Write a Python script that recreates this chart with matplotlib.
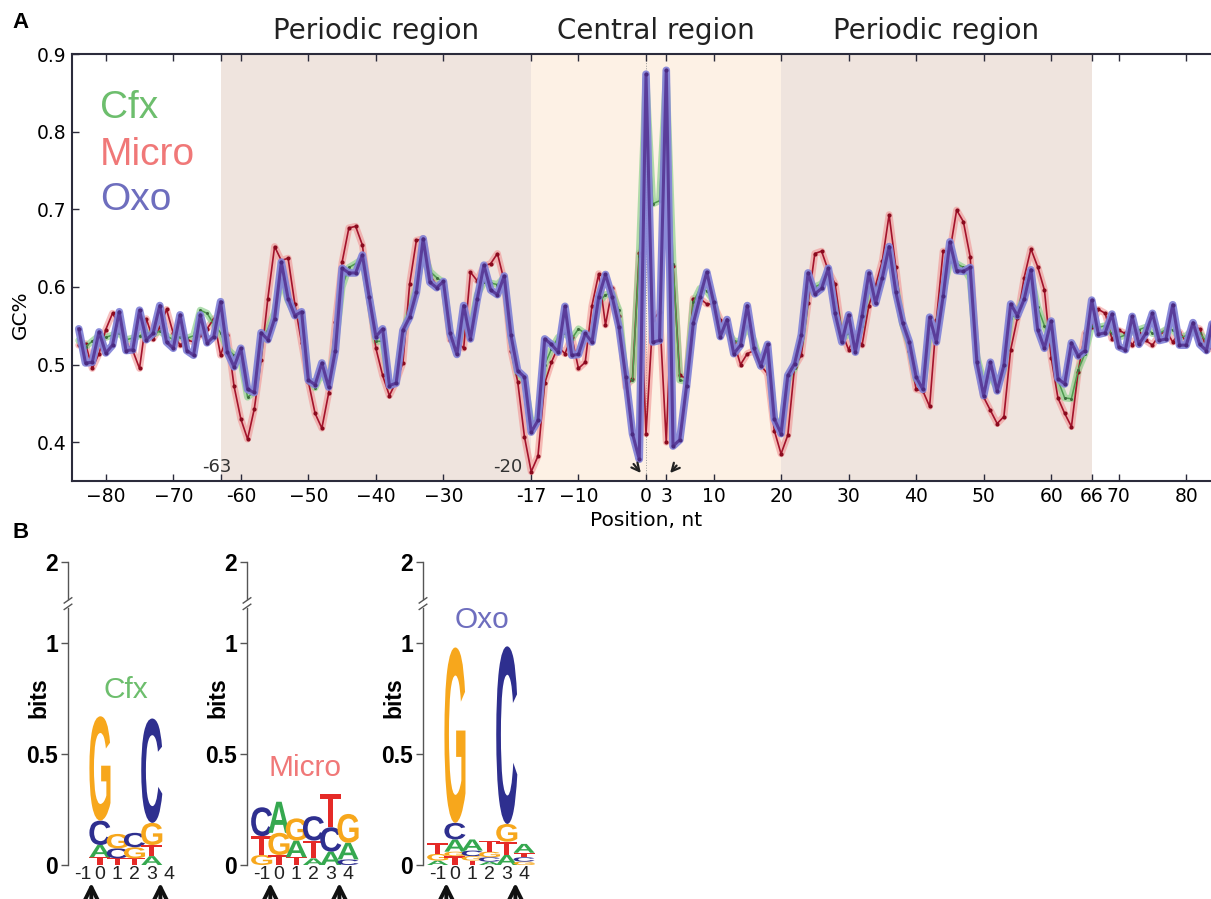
import numpy as np
import matplotlib
matplotlib.use('Agg')
import matplotlib.pyplot as plt
from matplotlib.textpath import TextPath
from matplotlib.patches import PathPatch
from matplotlib.transforms import Affine2D
from matplotlib.font_manager import FontProperties

# panel A data: GC% per position (-84..84)
positions = list(range(-84, 85))

oxo = [0.546, 0.502, 0.503, 0.542, 0.515, 0.525, 0.568, 0.518, 0.519, 0.570,
       0.532, 0.540, 0.576, 0.529, 0.521, 0.564, 0.518, 0.512, 0.564, 0.528,
       0.536, 0.581, 0.516, 0.497, 0.521, 0.468, 0.464, 0.541, 0.532, 0.559,
       0.632, 0.585, 0.563, 0.568, 0.480, 0.474, 0.502, 0.471, 0.518, 0.624,
       0.618, 0.618, 0.641, 0.587, 0.536, 0.546, 0.473, 0.476, 0.544, 0.561,
       0.593, 0.662, 0.606, 0.599, 0.607, 0.540, 0.513, 0.576, 0.533, 0.584,
       0.628, 0.596, 0.590, 0.614, 0.538, 0.492, 0.484, 0.413, 0.428, 0.533,
       0.526, 0.516, 0.575, 0.512, 0.513, 0.540, 0.529, 0.587, 0.616, 0.587,
       0.548, 0.484, 0.411, 0.378, 0.874, 0.529, 0.531, 0.879, 0.395, 0.403,
       0.472, 0.553, 0.587, 0.619, 0.581, 0.536, 0.558, 0.514, 0.525, 0.576,
       0.521, 0.498, 0.526, 0.430, 0.411, 0.486, 0.501, 0.538, 0.618, 0.591,
       0.598, 0.624, 0.566, 0.529, 0.564, 0.516, 0.563, 0.618, 0.579, 0.612,
       0.652, 0.593, 0.554, 0.529, 0.484, 0.468, 0.561, 0.529, 0.588, 0.658,
       0.621, 0.620, 0.625, 0.503, 0.460, 0.503, 0.466, 0.499, 0.578, 0.563,
       0.584, 0.622, 0.545, 0.521, 0.556, 0.482, 0.475, 0.528, 0.511, 0.518,
       0.583, 0.539, 0.541, 0.565, 0.523, 0.519, 0.562, 0.526, 0.540, 0.566,
       0.531, 0.533, 0.577, 0.525, 0.525, 0.554, 0.526, 0.518, 0.560]

micro = [0.525, 0.527, 0.495, 0.514, 0.545, 0.566, 0.551, 0.527, 0.518, 0.495,
         0.559, 0.533, 0.548, 0.571, 0.540, 0.525, 0.532, 0.529, 0.538, 0.546,
         0.559, 0.512, 0.538, 0.472, 0.430, 0.404, 0.443, 0.506, 0.585, 0.652,
         0.634, 0.637, 0.578, 0.528, 0.478, 0.437, 0.418, 0.463, 0.555, 0.632,
         0.676, 0.678, 0.654, 0.587, 0.521, 0.486, 0.460, 0.478, 0.502, 0.604,
         0.660, 0.662, 0.615, 0.602, 0.605, 0.532, 0.530, 0.521, 0.619, 0.608,
         0.627, 0.630, 0.643, 0.608, 0.518, 0.478, 0.407, 0.362, 0.382, 0.476,
         0.503, 0.523, 0.514, 0.536, 0.495, 0.503, 0.576, 0.617, 0.551, 0.598,
         0.563, 0.471, 0.482, 0.644, 0.411, 0.557, 0.568, 0.400, 0.627, 0.486,
         0.482, 0.585, 0.585, 0.578, 0.578, 0.558, 0.544, 0.529, 0.500, 0.514,
         0.518, 0.499, 0.488, 0.415, 0.385, 0.409, 0.497, 0.512, 0.579, 0.643,
         0.646, 0.621, 0.604, 0.542, 0.519, 0.538, 0.525, 0.576, 0.602, 0.634,
         0.693, 0.625, 0.553, 0.518, 0.468, 0.466, 0.446, 0.557, 0.646, 0.646,
         0.699, 0.684, 0.639, 0.506, 0.458, 0.441, 0.424, 0.433, 0.519, 0.560,
         0.612, 0.649, 0.626, 0.596, 0.509, 0.457, 0.437, 0.420, 0.491, 0.540,
         0.549, 0.571, 0.566, 0.533, 0.544, 0.540, 0.525, 0.540, 0.531, 0.525,
         0.538, 0.544, 0.529, 0.542, 0.529, 0.549, 0.546, 0.521, 0.520]

cfx = [0.531, 0.523, 0.530, 0.537, 0.535, 0.538, 0.540, 0.532, 0.534, 0.537,
       0.541, 0.539, 0.543, 0.537, 0.532, 0.536, 0.534, 0.537, 0.570, 0.566,
       0.552, 0.541, 0.520, 0.512, 0.505, 0.458, 0.465, 0.530, 0.545, 0.567,
       0.610, 0.582, 0.565, 0.562, 0.482, 0.470, 0.490, 0.474, 0.525, 0.600,
       0.625, 0.630, 0.636, 0.588, 0.530, 0.530, 0.472, 0.478, 0.540, 0.570,
       0.600, 0.648, 0.620, 0.612, 0.606, 0.540, 0.518, 0.560, 0.545, 0.590,
       0.606, 0.605, 0.603, 0.612, 0.535, 0.488, 0.480, 0.425, 0.430, 0.500,
       0.520, 0.535, 0.540, 0.533, 0.546, 0.540, 0.534, 0.580, 0.590, 0.592,
       0.570, 0.482, 0.480, 0.640, 0.868, 0.707, 0.711, 0.872, 0.630, 0.480,
       0.478, 0.580, 0.598, 0.595, 0.582, 0.545, 0.545, 0.530, 0.530, 0.550,
       0.530, 0.500, 0.515, 0.432, 0.418, 0.480, 0.495, 0.530, 0.600, 0.600,
       0.604, 0.620, 0.580, 0.533, 0.540, 0.530, 0.550, 0.600, 0.585, 0.615,
       0.645, 0.600, 0.552, 0.525, 0.480, 0.470, 0.540, 0.540, 0.595, 0.632,
       0.630, 0.625, 0.610, 0.510, 0.478, 0.484, 0.470, 0.495, 0.560, 0.565,
       0.590, 0.615, 0.574, 0.550, 0.530, 0.480, 0.457, 0.456, 0.493, 0.514,
       0.550, 0.548, 0.550, 0.540, 0.535, 0.538, 0.542, 0.545, 0.548, 0.540,
       0.540, 0.545, 0.545, 0.535, 0.537, 0.545, 0.540, 0.530, 0.535]

xticks = [-80, -70, -63, -60, -50, -40, -30, -17, -10, 0, 3, 10, 20, 30, 40, 50, 60, 66, 70, 80]
xticklabels = ['\u221280', '\u221270', '', '-60', '\u221250', '\u221240', '\u221230', '-17',
               '\u221210', '0', '3', '10', '20', '30', '40', '50', '60', '66', '70', '80']
yticks = [0.4, 0.5, 0.6, 0.7, 0.8, 0.9]

regions = [(-63, -17, 'Periodic region'), (-17, 20, 'Central region'), (20, 66, 'Periodic region')]
region_colors = ['#EFE4DE', '#FDF1E5', '#EFE4DE']

# panel B data: stacks bottom->top (letter, bits)
logo_cols = [-1, 0, 1, 2, 3, 4]
cfx_logo = {0: [('T', 0.035), ('A', 0.055), ('C', 0.11), ('G', 0.47)],
            1: [('T', 0.03), ('C', 0.045), ('G', 0.065)],
            2: [('T', 0.03), ('G', 0.05), ('C', 0.065)],
            3: [('A', 0.04), ('T', 0.05), ('G', 0.10), ('C', 0.47)]}
micro_logo = {-1: [('G', 0.045), ('T', 0.085), ('C', 0.13)],
              0: [('T', 0.045), ('G', 0.10), ('A', 0.14)],
              1: [('T', 0.035), ('A', 0.075), ('G', 0.10)],
              2: [('A', 0.03), ('T', 0.08), ('C', 0.11)],
              3: [('A', 0.06), ('C', 0.11), ('T', 0.15)],
              4: [('C', 0.025), ('A', 0.075), ('G', 0.13)]}
oxo_logo = {-1: [('A', 0.02), ('G', 0.03), ('T', 0.05)],
            0: [('T', 0.04), ('G', 0.02), ('A', 0.055), ('C', 0.075), ('G', 0.79)],
            1: [('T', 0.02), ('G', 0.02), ('C', 0.025), ('A', 0.05)],
            2: [('A', 0.015), ('C', 0.02), ('G', 0.025), ('T', 0.05)],
            3: [('A', 0.045), ('T', 0.06), ('G', 0.08), ('C', 0.80)],
            4: [('G', 0.015), ('C', 0.02), ('T', 0.02), ('A', 0.04)]}

letter_colors = {'A': '#35A84F', 'C': '#2E2F8F', 'G': '#F7A71C', 'T': '#E52A27'}

green = '#6DBE6D'
red = '#F07878'
blue = '#6E6EBE'

fig = plt.figure(figsize=(12.11, 8.99), dpi=100)

# ---------------- panel A ----------------
ax = fig.add_axes([72 / 1211, 1 - 481 / 899, 1148 / 1211, 427 / 899])
for (a, b, name), c in zip(regions, region_colors):
    ax.axvspan(a, b, color=c, lw=0, zorder=0)
    ax.text((a + b) / 2, 1.054, name, transform=ax.get_xaxis_transform(),
            ha='center', va='center', fontsize=20, color='#222222')
ax.axvline(0, color='#999999', lw=0.7, ls=':', zorder=1)

ax.plot(positions, micro, color='#F08C8C', lw=5, alpha=0.55, zorder=2,
        solid_capstyle='round', solid_joinstyle='round')
ax.plot(positions, cfx, color='#8FD18F', lw=5, alpha=0.7, zorder=2,
        solid_capstyle='round', solid_joinstyle='round')
ax.plot(positions, micro, color='#A3132B', lw=1.2, marker='o', ms=3, mfc='#8B0A1E', mec='none', zorder=3)
ax.plot(positions, cfx, color='#4E9A4E', lw=1.1, marker='o', ms=2.2, mfc='#3D6B3D', mec='none', zorder=3)
ax.plot(positions, oxo, color='#8585D8', lw=5.5, alpha=0.95, zorder=4,
        solid_capstyle='round', solid_joinstyle='round')
ax.plot(positions, oxo, color='#5A3D9A', lw=2.2, marker='o', ms=3, mfc='#4B2A80', mec='none', zorder=5,
        solid_joinstyle='round')

ax.set_xlim(-85, 85)
ax.set_ylim(0.35, 0.9)
ax.set_xticks(xticks)
ax.set_xticklabels(xticklabels)
ax.set_yticks(yticks)
ax.set_yticklabels(['0.4', '0.5', '0.6', '0.7', '0.8', '0.9'])
ax.tick_params(direction='in', top=True, right=True, length=5, width=1, color='#2B2B3B',
               labelsize=13.5, pad=4)
for s in ax.spines.values():
    s.set_color('#2B2B3B')
    s.set_linewidth(1.5)

ax.text(-63.6, 0.368, '-63', ha='center', va='center', fontsize=13, color='#333333', zorder=6)
ax.text(-20.4, 0.368, '-20', ha='center', va='center', fontsize=13, color='#333333', zorder=6)
ax.annotate('', xy=(-0.5, 0.3575), xytext=(-2.1, 0.3747),
            arrowprops=dict(arrowstyle='->', color='#222222', lw=1.6, mutation_scale=14), zorder=6)
ax.annotate('', xy=(3.3, 0.3575), xytext=(4.8, 0.3726),
            arrowprops=dict(arrowstyle='->', color='#222222', lw=1.6, mutation_scale=14), zorder=6)

for lab, col, yy in [('Cfx', green, 0.8735), ('Micro', red, 0.763), ('Oxo', blue, 0.658)]:
    ax.text(0.0244, yy, lab, transform=ax.transAxes, ha='left', va='center',
            fontsize=28, color=col, family='Liberation Sans', zorder=6)

fig.text(20 / 1211, 1 - 315 / 899, 'GC%', rotation=90, ha='center', va='center', fontsize=14.5)
fig.text(646 / 1211, 1 - 520 / 899, 'Position, nt', ha='center', va='center', fontsize=14.5)
fig.text(12 / 1211, 1 - 22 / 899, 'A', ha='left', va='center', fontsize=16,
         fontweight='bold', family='Liberation Sans')
fig.text(12 / 1211, 1 - 532 / 899, 'B', ha='left', va='center', fontsize=16,
         fontweight='bold', family='Liberation Sans')

# ---------------- panel B ----------------
logo_font = FontProperties(family='Liberation Sans', weight='bold')


def draw_letter(axl, ch, x, y0, h, w=1.22):
    tp = TextPath((0, 0), ch, size=1, prop=logo_font)
    bb = tp.get_extents()
    tr = Affine2D().translate(-bb.x0, -bb.y0).scale(w / bb.width, h / bb.height).translate(x - w / 2, y0)
    axl.add_patch(PathPatch(tr.transform_path(tp), facecolor=letter_colors[ch], edgecolor='none'))


logos = [(68, cfx_logo, 'Cfx', green, (126, 690)),
         (247, micro_logo, 'Micro', red, (305, 768)),
         (423, oxo_logo, 'Oxo', blue, (482, 620))]
x0, x1 = -1.85, 4.75
for left, stacks, name, col, (tx, ty) in logos:
    axl = fig.add_axes([left / 1211, 34 / 899, 114 / 1211, 303 / 899])
    axl.set_xlim(x0, x1)
    axl.set_ylim(0, 1.365)
    for s in axl.spines.values():
        s.set_visible(False)
    for pos, stack in stacks.items():
        base = 0.0
        for ch, h in stack:
            draw_letter(axl, ch, pos, base, h)
            base += h
    axl.plot([x0, x0], [0, 1.16], color='#555555', lw=1, clip_on=False)
    axl.plot([x0, x0], [1.20, 1.365], color='#555555', lw=1, clip_on=False)
    for yb in [1.163, 1.192]:
        axl.plot([x0 - 0.22, x0 + 0.22], [yb - 0.012, yb + 0.012], color='#555555', lw=1, clip_on=False)
    axl.set_yticks([0, 0.5, 1, 1.365])
    axl.set_yticklabels(['0', '0.5', '1', '2'], fontweight='bold', fontsize=16.5, family='Liberation Sans')
    axl.tick_params(axis='y', direction='out', length=5, width=1, color='#555555', pad=2)
    axl.set_xticks(logo_cols)
    axl.set_xticklabels([str(c) for c in logo_cols], fontsize=14, family='Liberation Sans', color='#222222')
    axl.tick_params(axis='x', length=0, pad=1)
    axl.text(-0.255, 0.551, 'bits', transform=axl.transAxes, rotation=90, ha='center', va='center',
             fontsize=16.5, fontweight='bold', family='Liberation Sans')
    for xa in [-0.5, 3.5]:
        axl.annotate('', xy=(xa, -0.068), xytext=(xa, -0.17), annotation_clip=False,
                     arrowprops=dict(arrowstyle='->', color='#111111', lw=2.8, mutation_scale=24))
    fig.text(tx / 1211, 1 - ty / 899, name, ha='center', va='center', fontsize=21.5,
             color=col, family='Liberation Sans')

fig.savefig('out.png', dpi=100)
